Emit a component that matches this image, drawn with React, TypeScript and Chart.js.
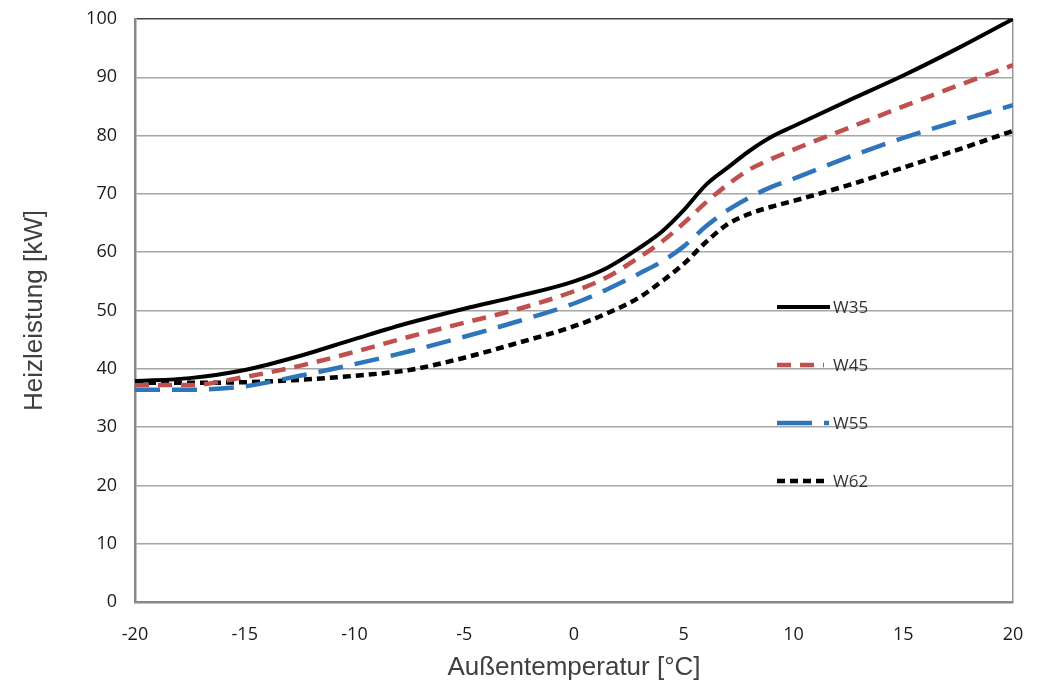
import React, { useEffect, useRef } from "react";
import { Chart, registerables } from "chart.js";

Chart.register(...registerables);

const temps = [-20, -17.5, -15, -12.5, -10, -7.5, -5, -2.5, 0, 1.5, 3, 4, 5, 6, 7, 8, 9, 10, 12.5, 15, 17.5, 20];
const w35 = [37.9, 38.4, 39.8, 42.2, 45.1, 47.9, 50.3, 52.5, 55.0, 57.3, 60.8, 63.5, 67.2, 71.5, 74.5, 77.4, 79.8, 81.6, 86.0, 90.3, 95.0, 100];
const w45 = [37.2, 37.2, 38.6, 40.5, 42.9, 45.5, 47.9, 50.3, 53.3, 55.7, 59.2, 61.8, 65.0, 68.5, 71.6, 74.2, 76.0, 77.6, 81.3, 85.0, 88.6, 92.1];
const w55 = [36.4, 36.4, 37.0, 38.8, 40.8, 43.0, 45.5, 48.2, 51.2, 53.6, 56.4, 58.4, 61.0, 64.4, 67.2, 69.4, 71.2, 72.6, 76.3, 79.6, 82.5, 85.2];
const w62 = [37.6, 37.6, 37.7, 38.1, 38.8, 39.8, 41.9, 44.5, 47.3, 49.5, 52.3, 55.0, 58.0, 61.7, 64.8, 66.6, 67.8, 68.8, 71.5, 74.5, 77.6, 80.8];
const seriesLabels = ["W35", "W45", "W55", "W62"];
const xTicks = [-20, -15, -10, -5, 0, 5, 10, 15, 20];
const yTicks = [0, 10, 20, 30, 40, 50, 60, 70, 80, 90, 100];

const toPts = (ys: number[]) => ys.map((y, i) => ({ x: temps[i], y }));

const legendPlugin = {
  id: "insideLegend",
  afterDatasetsDraw(chart: any) {
    const { ctx } = chart;
    const x0 = 777;
    const ys = [307, 365, 423, 481];
    const ends = [830, 824, 829, 824];
    chart.data.datasets.forEach((ds: any, i: number) => {
      const y = ys[i];
      ctx.save();
      ctx.strokeStyle = ds.borderColor;
      ctx.lineWidth = ds.borderWidth;
      ctx.setLineDash(i === 2 ? [35, 12] : ds.borderDash || []);
      ctx.lineCap = "butt";
      ctx.beginPath();
      ctx.moveTo(x0, y);
      ctx.lineTo(ends[i], y);
      ctx.stroke();
      ctx.setLineDash([]);
      ctx.fillStyle = "#333";
      ctx.font = "17px 'Open Sans', 'Liberation Sans', sans-serif";
      ctx.textBaseline = "middle";
      ctx.textAlign = "left";
      ctx.fillText(ds.label, 833, y + 1);
      ctx.restore();
    });
  },
};

export default function App() {
  const ref = useRef<HTMLCanvasElement>(null);
  useEffect(() => {
    const canvas = ref.current!;
    const chart = new Chart(canvas, {
      type: "line",
      data: {
        datasets: [
          { label: seriesLabels[0], data: toPts(w35), borderColor: "#000000", borderWidth: 4, borderDash: [], pointRadius: 0, cubicInterpolationMode: "monotone", fill: false },
          { label: seriesLabels[1], data: toPts(w45), borderColor: "#c0504d", borderWidth: 4.5, borderDash: [14, 9], pointRadius: 0, cubicInterpolationMode: "monotone", fill: false },
          { label: seriesLabels[2], data: toPts(w55), borderColor: "#2f75bb", borderWidth: 4.5, borderDash: [25, 12], pointRadius: 0, cubicInterpolationMode: "monotone", fill: false },
          { label: seriesLabels[3], data: toPts(w62), borderColor: "#000000", borderWidth: 4.5, borderDash: [8, 5], pointRadius: 0, cubicInterpolationMode: "monotone", fill: false },
        ] as any,
      },
      options: {
        animation: false,
        responsive: false,
        maintainAspectRatio: false,
        layout: { padding: { top: 19, right: 31, bottom: 0, left: 0 } },
        plugins: { legend: { display: false }, tooltip: { enabled: false } },
        scales: {
          x: {
            type: "linear",
            min: -20,
            max: 20,
            afterBuildTicks: (s: any) => { s.ticks = xTicks.map((v) => ({ value: v })); },
            afterFit: (s: any) => { s.height = 84; s.paddingLeft = 0; s.paddingRight = 0; },
            ticks: { padding: 22, color: "#1a1a1a", font: { family: "'Open Sans', 'Liberation Sans', sans-serif", size: 18 } },
            grid: {
              drawTicks: false,
              color: (c: any) => (c.tick && c.tick.value === 20 ? "#9a9a9a" : "rgba(0,0,0,0)"),
              lineWidth: 1.5,
            },
            border: { color: "#888", width: 2.5 },
            title: {
              display: true,
              text: "Außentemperatur [°C]",
              color: "#404040",
              font: { family: "'Liberation Sans', Arial, sans-serif", size: 26 },
              padding: { top: 0, bottom: 3 },
            },
          },
          y: {
            type: "linear",
            min: 0,
            max: 100,
            afterBuildTicks: (s: any) => { s.ticks = yTicks.map((v) => ({ value: v })); },
            afterFit: (s: any) => { s.width = 135; s.paddingTop = 0; s.paddingBottom = 0; },
            ticks: { padding: 18, color: "#1a1a1a", font: { family: "'Open Sans', 'Liberation Sans', sans-serif", size: 18 } },
            grid: {
              drawTicks: false,
              color: (c: any) => (c.tick && c.tick.value === 100 ? "#444" : "#a6a6a6"),
              lineWidth: 1.5,
            },
            border: { color: "#888", width: 2.5 },
            title: {
              display: true,
              text: "Heizleistung [kW]",
              color: "#404040",
              font: { family: "'Liberation Sans', Arial, sans-serif", size: 26 },
              padding: { top: 19, bottom: 0 },
            },
          },
        },
      } as any,
      plugins: [legendPlugin],
    });
    return () => chart.destroy();
  }, []);
  return (
    <div style={{ position: "fixed", left: 0, top: 0, width: 1044, height: 686, background: "#fff" }}>
      <canvas ref={ref} width={1044} height={686} style={{ width: 1044, height: 686, display: "block" }} />
    </div>
  );
}
